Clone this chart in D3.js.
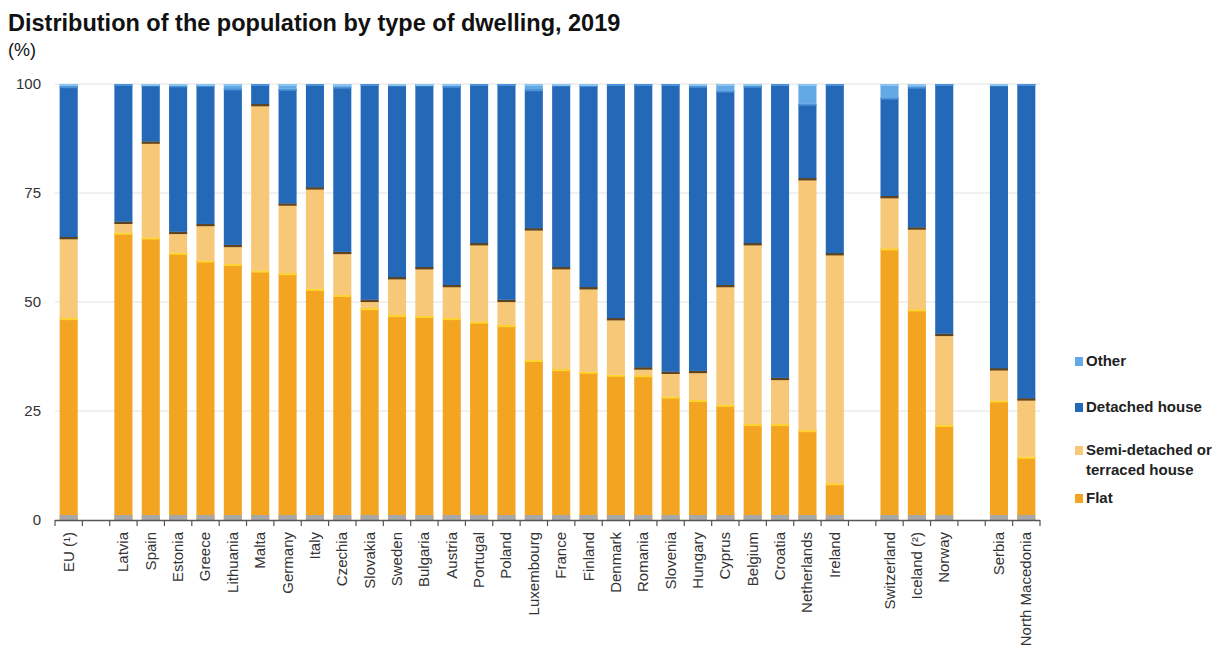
<!DOCTYPE html>
<html>
<head>
<meta charset="utf-8">
<script src="https://cdn.jsdelivr.net/npm/d3@7"></script>
<style>
  body { margin: 0; background: #fff; }
  svg { font-family: "Liberation Sans", Arial, sans-serif; }
</style>
</head>
<body>
<svg id="chart"></svg>
<script>
const width = 1225;
const height = 648;
const margin = { top: 84, right: 185, bottom: 128, left: 55 };

// chart data (%)
const countries = ["EU (¹)", "Latvia", "Spain", "Estonia", "Greece", "Lithuania", "Malta", "Germany",
    "Italy", "Czechia", "Slovakia", "Sweden", "Bulgaria", "Austria", "Portugal", "Poland",
    "Luxembourg", "France", "Finland", "Denmark", "Romania", "Slovenia", "Hungary", "Cyprus",
    "Belgium", "Croatia", "Netherlands", "Ireland", "Switzerland", "Iceland (²)", "Norway",
    "Serbia", "North Macedonia"];
const gapsAfter = ["EU (¹)", "Ireland", "Norway"];

const flat = [46.3, 65.9, 64.8, 61.3, 59.5, 58.7, 57.2, 56.6, 53.0, 51.6, 48.6, 47.0, 46.8, 46.3,
    45.5, 44.7, 36.7, 34.6, 34.0, 33.3, 33.2, 28.3, 27.5, 26.4, 22.0, 22.0, 20.6, 8.4, 62.3,
    48.3, 21.8, 27.4, 14.5];
const semiDetached = [18.6, 2.5, 22.0, 4.8, 8.4, 4.4, 38.2, 16.0, 23.3, 9.9, 1.9, 8.7, 11.2, 7.6,
    18.0, 5.8, 30.2, 23.4, 19.4, 13.0, 1.8, 5.7, 6.7, 27.5, 41.5, 10.6, 57.8, 52.8, 12.0,
    18.8, 20.9, 7.4, 13.4];
const detached = [34.6, 31.6, 13.1, 33.6, 31.9, 35.9, 4.6, 26.3, 23.7, 37.9, 49.5, 44.2, 41.9, 45.7,
    36.5, 49.5, 31.9, 41.9, 46.4, 53.7, 65.0, 66.0, 65.4, 44.6, 36.1, 67.4, 17.1, 38.8, 22.6,
    32.3, 57.3, 65.1, 72.1];
const other = [0.5, 0, 0.1, 0.3, 0.2, 1.0, 0, 1.1, 0, 0.6, 0, 0.1, 0.1, 0.4, 0, 0, 1.2, 0.1, 0.2,
    0, 0, 0, 0.4, 1.5, 0.4, 0, 4.5, 0, 3.1, 0.6, 0, 0.1, 0];

const yTicks = [0, 25, 50, 75, 100];

const keys = ["flat", "semi", "detached", "other"];
const labels = { flat: "Flat", semi: ["Semi-detached or", "terraced house"], detached: "Detached house", other: "Other" };
const colors = { flat: "#f3a521", semi: "#f6c878", detached: "#2469b7", other: "#62a9e6" };
const edgeColors = { flat: "#ffd52e", semi: "#5e4420", detached: "#4d93d9", other: "#8cc4f0" };

const rows = countries.map((c, i) => ({
    country: c, flat: flat[i], semi: semiDetached[i], detached: detached[i], other: other[i]
}));

// band domain with empty slots between groups
const slots = [];
countries.forEach(c => {
    slots.push(c);
    if (gapsAfter.includes(c)) slots.push("gap-" + c);
});

const svg = d3.select("#chart")
    .attr("width", width)
    .attr("height", height);

const xScale = d3.scaleBand()
    .domain(slots)
    .range([margin.left, width - margin.right])
    .paddingInner(0.34)
    .paddingOuter(0.17);

const yScale = d3.scaleLinear()
    .domain([0, 100])
    .range([height - margin.bottom, margin.top]);

// title
svg.append("text")
    .attr("x", 8)
    .attr("y", 31)
    .attr("font-size", 23.5)
    .attr("font-weight", "bold")
    .attr("fill", "#111")
    .text("Distribution of the population by type of dwelling, 2019");

svg.append("text")
    .attr("x", 8)
    .attr("y", 56)
    .attr("font-size", 18)
    .attr("fill", "#111")
    .text("(%)");

// gridlines
svg.append("g")
    .selectAll("line")
    .data(yTicks.filter(d => d > 0))
    .join("line")
    .attr("x1", margin.left)
    .attr("x2", width - margin.right)
    .attr("y1", d => yScale(d))
    .attr("y2", d => yScale(d))
    .attr("stroke", "#e2e2e2")
    .attr("stroke-width", 1);

const yAxis = d3.axisLeft(yScale)
    .tickValues(yTicks)
    .tickSize(0)
    .tickPadding(14);

svg.append("g")
    .attr("transform", `translate(${margin.left}, 0)`)
    .call(yAxis)
    .call(g => g.select(".domain").remove())
    .call(g => g.selectAll("text")
        .attr("font-size", 15)
        .attr("font-family", "Liberation Sans, Arial, sans-serif")
        .attr("fill", "#333"));

// stacked bars
const stack = d3.stack().keys(keys);
const series = stack(rows);
const bw = xScale.bandwidth();

const layers = svg.append("g")
    .selectAll("g")
    .data(series)
    .join("g")
    .attr("fill", d => colors[d.key]);

layers.selectAll("rect")
    .data(d => d.map(v => Object.assign(v, { key: d.key })))
    .join("rect")
    .attr("x", d => xScale(d.data.country))
    .attr("y", d => yScale(d[1]))
    .attr("width", bw)
    .attr("height", d => Math.max(0, yScale(d[0]) - yScale(d[1])));

// segment top edges
layers.selectAll("line")
    .data(d => d.filter(v => v[1] - v[0] > 0.05))
    .join("line")
    .attr("x1", d => xScale(d.data.country))
    .attr("x2", d => xScale(d.data.country) + bw)
    .attr("y1", d => yScale(d[1]) + 1)
    .attr("y2", d => yScale(d[1]) + 1)
    .attr("stroke", d => edgeColors[d.key])
    .attr("stroke-width", d => d.key === "semi" ? 2.5 : 2);

// grey base under each bar
svg.append("g")
    .selectAll("rect")
    .data(rows)
    .join("rect")
    .attr("x", d => xScale(d.country))
    .attr("y", yScale(0) - 5)
    .attr("width", bw)
    .attr("height", 5)
    .attr("fill", "#a8a8a8");

// x axis with ticks at slot boundaries
const boundaries = d3.range(slots.length + 1)
    .map(i => margin.left + i * (width - margin.left - margin.right) / slots.length);

const xAxisG = svg.append("g");
xAxisG.append("line")
    .attr("x1", margin.left)
    .attr("x2", width - margin.right)
    .attr("y1", yScale(0) + 0.5)
    .attr("y2", yScale(0) + 0.5)
    .attr("stroke", "#555")
    .attr("stroke-width", 1.5);

xAxisG.selectAll(".tick")
    .data(boundaries)
    .join("line")
    .attr("class", "tick")
    .attr("x1", d => d)
    .attr("x2", d => d)
    .attr("y1", yScale(0))
    .attr("y2", yScale(0) + 6)
    .attr("stroke", "#555")
    .attr("stroke-width", 1.2);

xAxisG.selectAll("text")
    .data(countries)
    .join("text")
    .attr("transform", d => `translate(${xScale(d) + bw / 2 + 5}, ${yScale(0) + 12}) rotate(-90)`)
    .attr("text-anchor", "end")
    .attr("font-size", 15)
    .attr("fill", "#333")
    .text(d => d);

// legend
const legendItems = [
    { key: "other", y: 366 },
    { key: "detached", y: 412 },
    { key: "semi", y: 455 },
    { key: "flat", y: 503 }
];

const legend = svg.append("g").attr("transform", "translate(1075, 0)");

legend.selectAll("rect")
    .data(legendItems)
    .join("rect")
    .attr("x", 0)
    .attr("y", d => d.y - 9)
    .attr("width", 8)
    .attr("height", 9)
    .attr("fill", d => colors[d.key]);

legend.selectAll("text")
    .data(legendItems)
    .join("text")
    .attr("x", 11)
    .attr("y", d => d.y)
    .attr("font-size", 15)
    .attr("font-weight", "bold")
    .attr("fill", "#222")
    .each(function(d) {
        const lines = [].concat(labels[d.key]);
        d3.select(this).selectAll("tspan")
            .data(lines)
            .join("tspan")
            .attr("x", 11)
            .attr("dy", (l, i) => i === 0 ? 0 : 20)
            .text(l => l);
    });
</script>
</body>
</html>
